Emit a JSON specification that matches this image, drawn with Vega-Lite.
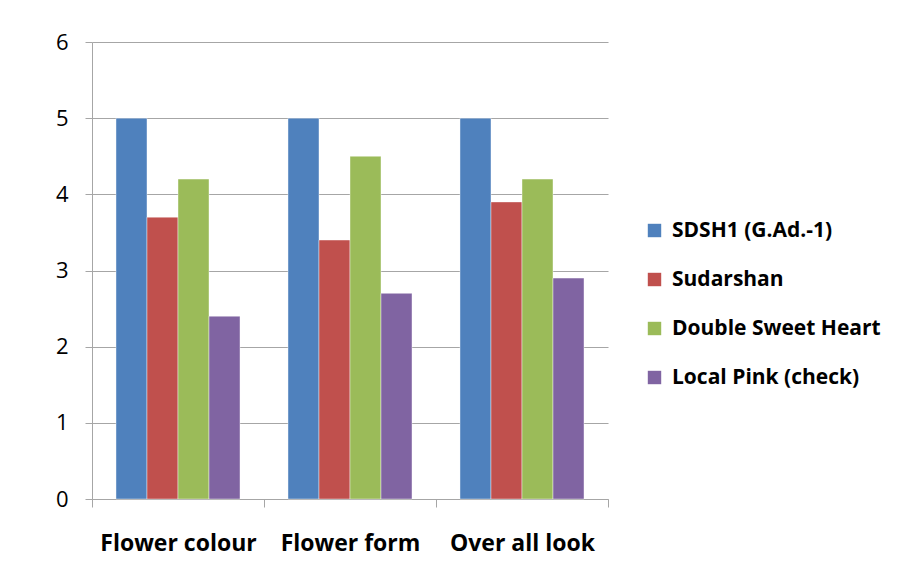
{
  "$schema": "https://vega.github.io/schema/vega-lite/v6.json",
  "width": 516,
  "height": 457,
  "autosize": {"type": "none"},
  "padding": {"left": 92, "top": 42, "right": 302, "bottom": 87},
  "background": "white",
  "config": {"view": {"stroke": null}, "font": "Open Sans"},
  "data": {"values": [
    {"trait": "Flower colour", "variety": "SDSH1 (G.Ad.-1)", "score": 5.0},
    {"trait": "Flower colour", "variety": "Sudarshan", "score": 3.7},
    {"trait": "Flower colour", "variety": "Double Sweet Heart", "score": 4.2},
    {"trait": "Flower colour", "variety": "Local Pink (check)", "score": 2.4},
    {"trait": "Flower form", "variety": "SDSH1 (G.Ad.-1)", "score": 5.0},
    {"trait": "Flower form", "variety": "Sudarshan", "score": 3.4},
    {"trait": "Flower form", "variety": "Double Sweet Heart", "score": 4.5},
    {"trait": "Flower form", "variety": "Local Pink (check)", "score": 2.7},
    {"trait": "Over all look", "variety": "SDSH1 (G.Ad.-1)", "score": 5.0},
    {"trait": "Over all look", "variety": "Sudarshan", "score": 3.9},
    {"trait": "Over all look", "variety": "Double Sweet Heart", "score": 4.2},
    {"trait": "Over all look", "variety": "Local Pink (check)", "score": 2.9}
  ]},
  "mark": {"type": "bar", "stroke": "#ffffff", "strokeWidth": 0.6, "strokeOpacity": 0.7},
  "encoding": {
    "x": {
      "field": "trait", "type": "nominal", "sort": null, "title": null,
      "scale": {"paddingInner": 0, "paddingOuter": 0},
      "axis": {
        "labelAngle": 0, "labelFontSize": 23, "labelFontWeight": "bold", "labelColor": "#000000",
        "labelPadding": 25, "tickBand": "extent", "tickSize": 8, "tickColor": "#a6a6a6",
        "domainColor": "#a6a6a6", "domainWidth": 1, "tickWidth": 1, "grid": false
      }
    },
    "xOffset": {
      "field": "variety", "type": "nominal", "sort": ["SDSH1 (G.Ad.-1)", "Sudarshan", "Double Sweet Heart", "Local Pink (check)"],
      "scale": {"paddingInner": 0, "paddingOuter": 0.774}
    },
    "y": {
      "field": "score", "type": "quantitative", "title": null,
      "scale": {"domain": [0, 6], "nice": false},
      "axis": {
        "values": [0, 1, 2, 3, 4, 5, 6], "labelFontSize": 22, "labelColor": "#000000",
        "labelPadding": 17, "tickSize": 7, "tickColor": "#a6a6a6", "domain": true,
        "domainColor": "#a6a6a6", "gridColor": "#a6a6a6", "gridWidth": 1.2
      }
    },
    "color": {
      "field": "variety", "type": "nominal", "title": null,
      "sort": ["SDSH1 (G.Ad.-1)", "Sudarshan", "Double Sweet Heart", "Local Pink (check)"],
      "scale": {"range": ["#4F81BD", "#C0504D", "#9BBB59", "#8064A2"]},
      "legend": {
        "orient": "none", "legendX": 552, "legendY": 178,
        "symbolType": "square", "symbolSize": 180, "symbolStrokeWidth": 0,
        "labelFontSize": 21, "labelFontWeight": "bold", "labelColor": "#000000",
        "labelLimit": 300, "rowPadding": 27, "labelOffset": 7
      }
    }
  }
}
